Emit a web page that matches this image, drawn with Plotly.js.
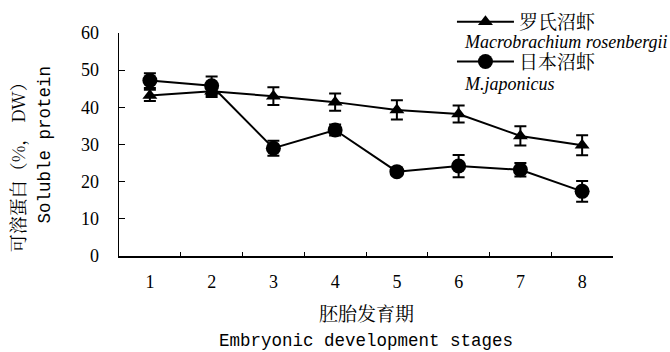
<!DOCTYPE html>
<html>
<head>
<meta charset="utf-8">
<script src="https://cdn.plot.ly/plotly-3.0.1.min.js"></script>
<style>html,body{margin:0;padding:0;background:#fff;}#chart{width:670px;height:352px;}</style>
</head>
<body>
<div id="chart"></div>
<script>
// ---- data ----
var stages = ["1", "2", "3", "4", "5", "6", "7", "8"];
var rosenbergii = [43.2, 44.3, 43.0, 41.4, 39.3, 38.2, 32.3, 29.8];
var rosenbergiiErr = [1.5, 1.5, 2.4, 2.3, 2.6, 2.3, 2.6, 2.7];
var japonicus = [47.2, 45.8, 29.0, 33.9, 22.7, 24.2, 23.2, 17.4];
var japonicusErr = [2.0, 2.5, 2.0, 1.5, 1.0, 3.0, 1.8, 2.8];
var seriesNamesCN = ["罗氏沼虾", "日本沼虾"];
var seriesNamesLatin = ["Macrobrachium rosenbergii", "M.japonicus"];
var yTicks = [0, 10, 20, 30, 40, 50, 60];

var serif = "Liberation Serif";
var mono = "Liberation Mono";
var cjk = "Noto Serif CJK SC";

var traces = [
  {
    x: stages, y: rosenbergii, name: seriesNamesCN[0], legendgroup: "a",
    type: "scatter", mode: "lines+markers",
    line: {color: "#000", width: 2},
    marker: {symbol: "triangle-up", size: 13, color: "#000"},
    error_y: {type: "data", array: rosenbergiiErr, visible: true, color: "#000", thickness: 2, width: 6}
  },
  {
    x: stages, y: japonicus, name: seriesNamesCN[1], legendgroup: "b",
    type: "scatter", mode: "lines+markers",
    line: {color: "#000", width: 2},
    marker: {symbol: "circle", size: 15, color: "#000"},
    error_y: {type: "data", array: japonicusErr, visible: true, color: "#000", thickness: 2, width: 6}
  }
];

var layout = {
  width: 670, height: 352,
  margin: {l: 119, r: 57, t: 33, b: 96, autoexpand: false},
  paper_bgcolor: "#fff", plot_bgcolor: "#fff",
  font: {family: serif, color: "#000"},
  showlegend: true,
  legend: {
    x: 0.674, y: 1.135, xanchor: "left", yanchor: "top",
    bgcolor: "rgba(0,0,0,0)", borderwidth: 0,
    font: {family: cjk, size: 19, color: "#000"},
    traceorder: "grouped", tracegroupgap: 12, itemwidth: 57
  },
  xaxis: {
    type: "category", range: [-0.5, 7.5],
    showline: true, linecolor: "#000", linewidth: 1.5, mirror: false,
    ticks: "inside", tickson: "boundaries", ticklen: 4, tickcolor: "#000", tickwidth: 1,
    showgrid: false, zeroline: false,
    tickfont: {family: serif, size: 18, color: "#000"},
    ticklabelstandoff: 9
  },
  yaxis: {
    range: [0, 60], tickvals: yTicks, ticktext: yTicks.map(String),
    showline: true, linecolor: "#000", linewidth: 1.5, mirror: false,
    ticks: "inside", ticklen: 6, tickcolor: "#000", tickwidth: 1,
    showgrid: false, zeroline: false,
    tickfont: {family: serif, size: 18, color: "#000"},
    ticklabelstandoff: 15
  },
  annotations: [
    {text: "<i>" + seriesNamesLatin[0] + "</i>", xref: "paper", yref: "paper", x: 0.694, y: 0.958, xanchor: "left", yanchor: "middle", showarrow: false, font: {family: serif, size: 18, color: "#000"}},
    {text: "<i>" + seriesNamesLatin[1] + "</i>", xref: "paper", yref: "paper", x: 0.694, y: 0.772, xanchor: "left", yanchor: "middle", showarrow: false, font: {family: serif, size: 18, color: "#000"}},
    {text: "胚胎发育期", xref: "paper", yref: "paper", x: 0.5, y: -0.255, xanchor: "center", yanchor: "middle", showarrow: false, font: {family: cjk, size: 19, color: "#000"}},
    {text: "Embryonic development stages", xref: "paper", yref: "paper", x: 0.5, y: -0.381, xanchor: "center", yanchor: "middle", showarrow: false, font: {family: mono, size: 17.5, color: "#000"}},
    {text: "可溶蛋白（%， DW）", xref: "paper", yref: "paper", x: -0.2065, y: 0.42, xanchor: "center", yanchor: "middle", textangle: -90, showarrow: false, font: {family: cjk, size: 18, color: "#000"}},
    {text: "Soluble protein", xref: "paper", yref: "paper", x: -0.1498, y: 0.5, xanchor: "center", yanchor: "middle", textangle: -90, showarrow: false, font: {family: mono, size: 17.5, color: "#000"}}
  ]
};

Plotly.newPlot("chart", traces, layout, {displayModeBar: false, staticPlot: true});
</script>
</body>
</html>
